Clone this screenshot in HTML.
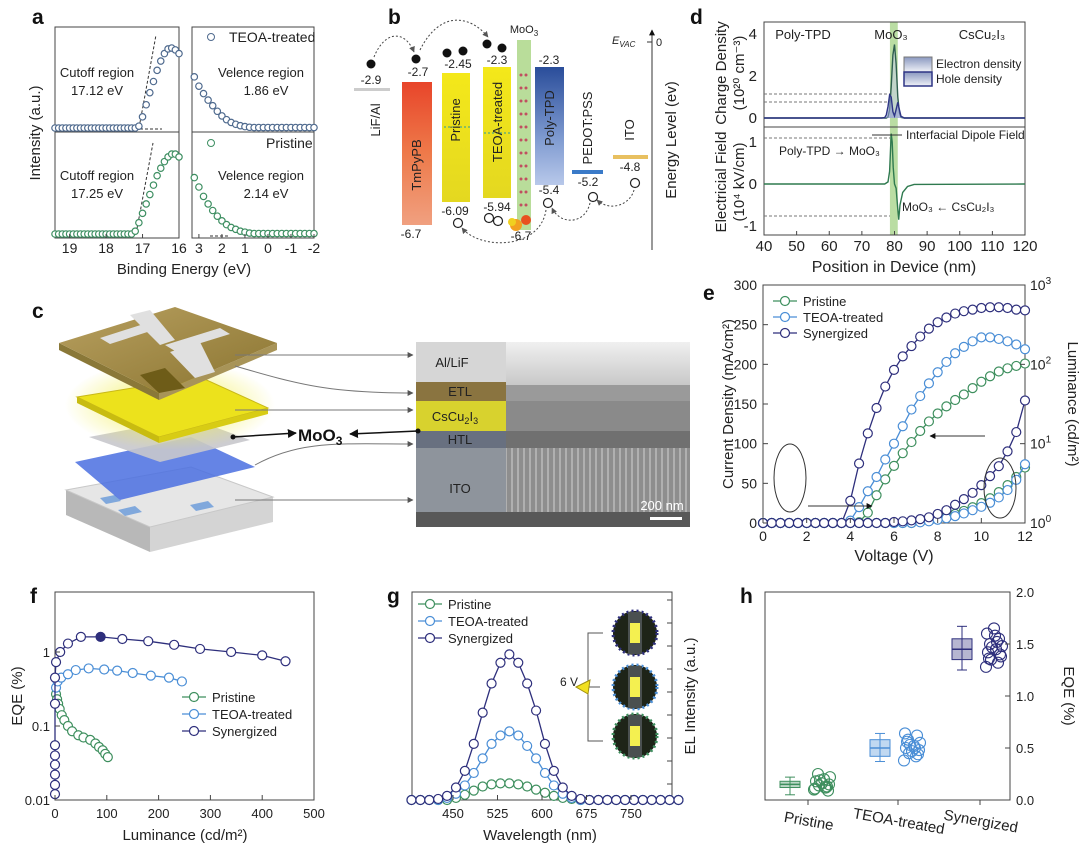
<!DOCTYPE html>
<html><head><meta charset="utf-8"><title>Figure</title>
<style>
html,body{margin:0;padding:0;background:#fff;}
svg{display:block;font-family:"Liberation Sans",Arial,sans-serif;}
</style></head>
<body>
<svg id="fig" xmlns="http://www.w3.org/2000/svg" width="1080" height="848" viewBox="0 0 1080 848">
<defs>
<linearGradient id="gRed" x1="0" y1="0" x2="0" y2="1"><stop offset="0" stop-color="#e8452a"/><stop offset="0.5" stop-color="#ee7a4a"/><stop offset="1" stop-color="#f0a080"/></linearGradient>
<linearGradient id="gYel" x1="0" y1="0" x2="0" y2="1"><stop offset="0" stop-color="#f4e81a"/><stop offset="1" stop-color="#e4d820"/></linearGradient>
<linearGradient id="gBlue" x1="0" y1="0" x2="0" y2="1"><stop offset="0" stop-color="#2a4d9a"/><stop offset="0.6" stop-color="#7e9ad0"/><stop offset="1" stop-color="#b8c8ea"/></linearGradient>
<linearGradient id="gLeg" x1="0" y1="0" x2="0" y2="1"><stop offset="0" stop-color="#8a98c0"/><stop offset="1" stop-color="#f0f2f8"/></linearGradient>
<linearGradient id="gGold" x1="0" y1="0" x2="1" y2="1"><stop offset="0" stop-color="#b8a060"/><stop offset="1" stop-color="#8a7430"/></linearGradient>
<radialGradient id="gGlow"><stop offset="0" stop-color="#f2ee50"/><stop offset="1" stop-color="#f2ee50" stop-opacity="0"/></radialGradient>
<linearGradient id="gSemTop" x1="0" y1="0" x2="0" y2="1"><stop offset="0" stop-color="#f0f0f0"/><stop offset="1" stop-color="#c8c8c8"/></linearGradient>
<pattern id="pCol" width="6" height="64" patternUnits="userSpaceOnUse"><rect width="6" height="64" fill="#8e8e8e"/><rect x="1" width="2" height="64" fill="#b0b0b0"/></pattern>
<marker id="arr" viewBox="0 0 10 10" refX="9" refY="5" markerWidth="6" markerHeight="6" orient="auto"><path d="M0,0 L10,5 L0,10 z" fill="#555"/></marker>
<marker id="arrB" viewBox="0 0 10 10" refX="9" refY="5" markerWidth="6" markerHeight="6" orient="auto"><path d="M0,0 L10,5 L0,10 z" fill="#111"/></marker>
</defs>
<rect width="1080" height="848" fill="#fff"/>

<g font-weight="bold" font-size="21" fill="#111">
<text x="32" y="24">a</text>
<text x="388" y="24">b</text>
<text x="32" y="318">c</text>
<text x="690" y="24">d</text>
<text x="703" y="300">e</text>
<text x="30" y="603">f</text>
<text x="387" y="603">g</text>
<text x="740" y="603">h</text>
</g>

<g id="panelB" font-size="13" fill="#222">
<rect x="354" y="88" width="36" height="3" fill="#ccc"/>
<rect x="402" y="82" width="30" height="143" fill="url(#gRed)"/>
<rect x="442" y="73" width="28" height="129" fill="url(#gYel)"/>
<rect x="483" y="67" width="28" height="131" fill="url(#gYel)"/>
<rect x="517" y="40" width="14" height="190" fill="#b9dd9a"/>
<rect x="535" y="67" width="29" height="118" fill="url(#gBlue)"/>
<rect x="572" y="170" width="31" height="4" fill="#3a7ac8"/>
<rect x="613" y="155" width="35" height="4" fill="#e8c060"/>
<line x1="444" y1="127" x2="470" y2="127" stroke="#2a9aa0" stroke-dasharray="2,2"/>
<line x1="484" y1="133" x2="511" y2="133" stroke="#2a9aa0" stroke-dasharray="2,2"/>
<g fill="#c05060">
<circle cx="521" cy="75" r="1.5"/><circle cx="526" cy="75" r="1.5"/><circle cx="521" cy="88" r="1.5"/><circle cx="526" cy="88" r="1.5"/><circle cx="521" cy="101" r="1.5"/><circle cx="526" cy="101" r="1.5"/><circle cx="521" cy="114" r="1.5"/><circle cx="526" cy="114" r="1.5"/><circle cx="521" cy="127" r="1.5"/><circle cx="526" cy="127" r="1.5"/><circle cx="521" cy="140" r="1.5"/><circle cx="526" cy="140" r="1.5"/><circle cx="521" cy="153" r="1.5"/><circle cx="526" cy="153" r="1.5"/><circle cx="521" cy="166" r="1.5"/><circle cx="526" cy="166" r="1.5"/><circle cx="521" cy="179" r="1.5"/><circle cx="526" cy="179" r="1.5"/><circle cx="521" cy="192" r="1.5"/><circle cx="526" cy="192" r="1.5"/><circle cx="521" cy="205" r="1.5"/><circle cx="526" cy="205" r="1.5"/>
</g>
<g><circle cx="516" cy="225" r="6" fill="#f2a020"/><circle cx="526" cy="220" r="5" fill="#e85020"/><circle cx="512" cy="222" r="4" fill="#f0d020"/></g>
<line x1="652" y1="250" x2="652" y2="30" stroke="#333" marker-end="url(#arrB)"/>
<line x1="647" y1="42" x2="652" y2="42" stroke="#333"/>
<text x="656" y="46" font-size="11">0</text>
<text x="612" y="44" font-size="11" font-style="italic">E<tspan font-size="8" dy="3">VAC</tspan></text>
<text transform="translate(676,140) rotate(-90)" text-anchor="middle" font-size="15">Energy Level (ev)</text>
<text x="524" y="33" font-size="11" text-anchor="middle">MoO<tspan font-size="8" dy="3">3</tspan></text>
<g text-anchor="middle" font-size="12">
<text x="371" y="84">-2.9</text><text x="418" y="76">-2.7</text><text x="458" y="68">-2.45</text><text x="497" y="64">-2.3</text><text x="549" y="64">-2.3</text>
<text x="411" y="238">-6.7</text><text x="455" y="215">-6.09</text><text x="497" y="211">-5.94</text><text x="521" y="240">-6.7</text><text x="549" y="194">-5.4</text><text x="588" y="186">-5.2</text><text x="630" y="171">-4.8</text>
</g>
<g font-size="13" text-anchor="middle">
<text transform="translate(380,120) rotate(-90)">LiF/Al</text>
<text transform="translate(421,165) rotate(-90)">TmPyPB</text>
<text transform="translate(460,120) rotate(-90)">Pristine</text>
<text transform="translate(502,122) rotate(-90)">TEOA-treated</text>
<text transform="translate(554,118) rotate(-90)">Poly-TPD</text>
<text transform="translate(592,128) rotate(-90)">PEDOT:PSS</text>
<text transform="translate(634,130) rotate(-90)">ITO</text>
</g>
<g fill="#111"><circle cx="371" cy="64" r="4.5"/><circle cx="416" cy="59" r="4.5"/><circle cx="447" cy="53" r="4.5"/><circle cx="463" cy="51" r="4.5"/><circle cx="487" cy="44" r="4.5"/><circle cx="502" cy="48" r="4.5"/></g>
<g fill="#fff" stroke="#222" stroke-width="1.2"><circle cx="458" cy="223" r="4.5"/><circle cx="489" cy="218" r="4.5"/><circle cx="498" cy="221" r="4.5"/><circle cx="548" cy="203" r="4.5"/><circle cx="593" cy="197" r="4.5"/><circle cx="635" cy="183" r="4.5"/></g>
<g fill="none" stroke="#444" stroke-dasharray="2,2">
<path d="M374,57 C385,30 405,30 414,52" marker-end="url(#arr)"/>
<path d="M420,50 C440,10 470,15 488,37" marker-end="url(#arr)"/>
<path d="M546,210 C540,250 480,250 462,228" marker-end="url(#arr)"/>
<path d="M590,203 C585,225 560,225 552,208" marker-end="url(#arr)"/>
<path d="M634,190 C630,205 610,212 597,200" marker-end="url(#arr)"/>
</g>
</g>

<g id="panelC">
<g>
<polygon points="66,490 150,527 150,552 66,515" fill="#b8b8b8"/>
<polygon points="150,527 273,497 273,522 150,552" fill="#d4d4d4"/>
<polygon points="66,490 191,467 273,497 150,527" fill="#e6e6e6" stroke="#c8c8c8"/>
<polygon points="100,498 115,495 121,501 106,504" fill="#80a8dc"/><polygon points="118,510 135,506 142,512 125,516" fill="#80a8dc"/><polygon points="190,505 208,501 214,507 196,511" fill="#80a8dc"/>
</g>
<polygon points="75,462 191,437 255,467 120,500" fill="#4a6ee0" opacity="0.85"/>
<polygon points="89,437 190,418 250,440 160,462" fill="#c8c8cc" opacity="0.9"/>
<ellipse cx="170" cy="405" rx="105" ry="45" fill="url(#gGlow)"/>
<polygon points="77,397 200,377 268,408 159,437" fill="#ece21c" stroke="#c8b818"/>
<polygon points="77,397 159,437 159,443 77,403" fill="#c8bc10"/>
<polygon points="159,437 268,408 268,414 159,443" fill="#d8cc14"/>
<g>
<polygon points="59,343 159,393 159,400 59,350" fill="#8a7838"/>
<polygon points="159,393 277,343 277,350 159,400" fill="#a89458"/>
<polygon points="59,343 175,307 277,343 159,393" fill="url(#gGold)"/>
<polygon points="100,338 150,322 160,328 110,344" fill="#e0e0e0"/>
<polygon points="165,345 220,328 230,334 175,351" fill="#e0e0e0"/>
<polygon points="130,315 150,310 175,340 160,345" fill="#e0e0e0"/>
<polygon points="170,352 200,342 215,372 195,378" fill="#e0e0e0"/>
<polygon points="140,375 165,368 185,388 159,393" fill="#6e5c18"/>
</g>
<g>
<rect x="416" y="342" width="90" height="40" fill="#d6d6d6"/>
<rect x="416" y="382" width="90" height="19" fill="#8a7440"/>
<rect x="416" y="401" width="90" height="30" fill="#d8d22e"/>
<rect x="416" y="431" width="90" height="17" fill="#687080"/>
<rect x="416" y="448" width="90" height="64" fill="#8e949c"/>
<rect x="506" y="342" width="184" height="43" fill="url(#gSemTop)"/>
<rect x="506" y="385" width="184" height="16" fill="#9a9a9a"/>
<rect x="506" y="401" width="184" height="30" fill="#8a8a8a"/>
<rect x="506" y="431" width="184" height="17" fill="#707070"/>
<rect x="506" y="448" width="184" height="64" fill="url(#pCol)"/>
<rect x="416" y="512" width="274" height="15" fill="#585858"/>
<rect x="650" y="517" width="32" height="3" fill="#fff"/>
<text x="662" y="510" font-size="13" fill="#fff" text-anchor="middle">200 nm</text>
<g font-size="13" fill="#222" text-anchor="middle">
<text x="452" y="367">Al/LiF</text><text x="460" y="396">ETL</text><text x="455" y="421">CsCu<tspan font-size="9" dy="3">2</tspan><tspan dy="-3">I</tspan><tspan font-size="9" dy="3">3</tspan></text><text x="460" y="444">HTL</text><text x="460" y="493">ITO</text>
</g>
</g>
<g fill="none" stroke="#777">
<line x1="235" y1="355" x2="413" y2="355" marker-end="url(#arr)"/>
<path d="M235,366 C300,385 330,393 413,393" marker-end="url(#arr)"/>
<line x1="235" y1="410" x2="413" y2="410" marker-end="url(#arr)"/>
<path d="M255,465 C300,440 340,444 413,444" marker-end="url(#arr)"/>
<line x1="235" y1="500" x2="413" y2="500" marker-end="url(#arr)"/>
</g>
<g>
<circle cx="233" cy="437" r="2.5" fill="#111"/>
<line x1="233" y1="437" x2="296" y2="433" stroke="#111" stroke-width="1.5" marker-end="url(#arrB)"/>
<line x1="418" y1="431" x2="350" y2="434" stroke="#111" stroke-width="1.5" marker-end="url(#arrB)"/>
<circle cx="418" cy="431" r="2.5" fill="#111"/>
<text x="298" y="441" font-size="17" font-weight="bold" fill="#111">MoO<tspan font-size="12" dy="4">3</tspan></text>
</g>
</g>

<g id="dyn"></g>

<script>
// ---------- data arrays ----------
const aCutEnergy = [19.4,19.3,19.2,19.1,19.0,18.9,18.8,18.7,18.6,18.5,18.4,18.3,18.2,18.1,18.0,17.9,17.8,17.7,17.6,17.5,17.4,17.3,17.2,17.1,17.0,16.9,16.8,16.7,16.6,16.5,16.4,16.3,16.2,16.1,16.0];
const aCutTeoa = [0,0,0,0,0,0,0,0,0,0,0,0,0,0,0,0,0,0,0,0,0,0,0,0.02,0.12,0.25,0.38,0.5,0.62,0.72,0.8,0.85,0.86,0.84,0.8];
const aCutPristine = [0,0,0,0,0,0,0,0,0,0,0,0,0,0,0,0,0,0,0,0,0,0,0.03,0.12,0.22,0.32,0.42,0.52,0.62,0.7,0.77,0.82,0.85,0.85,0.82];
const aValEnergy = [3.2,3.0,2.8,2.6,2.4,2.2,2.0,1.8,1.6,1.4,1.2,1.0,0.8,0.6,0.4,0.2,0,-0.2,-0.4,-0.6,-0.8,-1.0,-1.2,-1.4,-1.6,-1.8,-2.0];
const aValTeoa = [0.55,0.45,0.37,0.3,0.24,0.18,0.13,0.09,0.06,0.04,0.025,0.015,0.008,0.005,0.005,0.005,0.005,0.005,0.005,0.005,0.005,0.005,0.005,0.005,0.005,0.005,0.005];
const aValPristine = [0.6,0.5,0.4,0.32,0.25,0.19,0.14,0.1,0.07,0.05,0.03,0.02,0.01,0.005,0.005,0.005,0.005,0.005,0.005,0.005,0.005,0.005,0.005,0.005,0.005,0.005,0.005];
const aCutTicks = [19,18,17,16];
const aValTicks = [3,2,1,0,-1,-2];
const dPos = [40,76,77,77.5,78,78.5,79,79.5,80,80.5,81,81.5,82,83,120];
const dElectron = [0,0,0,0,0.05,0.4,1.5,3.0,3.5,2.6,1.0,0.25,0.03,0,0];
const dHole = [0,0,0.02,0.15,0.55,1.1,1.0,0.3,0.1,0.4,0.75,0.4,0.08,0,0];
const dFieldPos = [40,77,78,78.5,79,79.3,79.6,80,80.5,81,81.3,81.7,82.5,84,86,120];
const dField = [0,0,0.05,0.3,1.2,1.0,0.4,0,-0.1,-0.6,-0.85,-0.5,-0.2,-0.06,-0.01,0];
const dXTicks = [40,50,60,70,80,90,100,110,120];
const dTopTicks = [0,2,4];
const dBotTicks = [-1,0,1];
const eVoltage = [0,0.4,0.8,1.2,1.6,2,2.4,2.8,3.2,3.6,4,4.4,4.8,5.2,5.6,6,6.4,6.8,7.2,7.6,8,8.4,8.8,9.2,9.6,10,10.4,10.8,11.2,11.6,12];
const eJSyn = [0,0,0,0,0,0,0,0,0,0,28,75,113,145,172,193,210,223,235,245,253,259,264,267,269,271,272,272,271,269,268];
const eJTeoa = [0,0,0,0,0,0,0,0,0,0,3,20,40,58,80,100,122,143,160,176,190,203,214,222,229,234,234,232,229,225,219];
const eJPristine = [0,0,0,0,0,0,0,0,0,0,0,1,13,35,55,72,88,102,116,128,138,147,155,162,170,178,185,191,195,198,201];
const eLSyn = [1,1,1,1,1,1,1,1,1,1,1,1,1,1,1,1.03,1.05,1.08,1.12,1.18,1.3,1.45,1.7,2.0,2.4,3.0,3.9,5.2,8,14,35];
const eLTeoa = [1,1,1,1,1,1,1,1,1,1,1,1,1,1,1,1,1,1,1.02,1.05,1.1,1.15,1.22,1.32,1.45,1.6,1.8,2.1,2.6,3.5,5.5];
const eLPristine = [1,1,1,1,1,1,1,1,1,1,1,1,1,1,1,1,1,1,1.03,1.07,1.13,1.2,1.3,1.42,1.58,1.78,2.05,2.45,3.0,3.8,5.0];
const eXTicks = [0,2,4,6,8,10,12];
const eJTicks = [0,50,100,150,200,250,300];
const eLTicks = [0,1,2,3];
const fLumSyn = [0,0,0,0,0,0,0,0,2,10,25,50,88,130,180,230,280,340,400,445];
const fEqeSyn = [0.012,0.016,0.022,0.03,0.04,0.055,0.2,0.45,0.73,1.0,1.3,1.6,1.6,1.5,1.4,1.25,1.1,1.0,0.9,0.75];
const fLumTeoa = [2,5,12,25,40,65,95,120,150,185,220,245];
const fEqeTeoa = [0.33,0.4,0.45,0.5,0.57,0.6,0.58,0.56,0.52,0.48,0.45,0.4];
const fLumPristine = [2,4,6,9,13,18,25,33,45,55,68,78,85,92,97,102];
const fEqePristine = [0.27,0.23,0.2,0.17,0.14,0.12,0.1,0.085,0.075,0.07,0.065,0.058,0.052,0.047,0.042,0.038];
const fXTicks = [0,100,200,300,400,500];
const fYTicks = [0.01,0.1,1];
const fYTickLabels = ['0.01','0.1','1'];
const gWave = [380,395,410,425,440,455,470,485,500,515,530,545,560,575,590,605,620,635,650,665,680,695,710,725,740,755,770,785,800,815,830];
const gSyn = [0,0,0,0.005,0.02,0.06,0.14,0.27,0.42,0.56,0.66,0.70,0.66,0.56,0.43,0.27,0.14,0.06,0.02,0.005,0,0,0,0,0,0,0,0,0,0,0];
const gTeoa = [0,0,0,0,0.01,0.03,0.07,0.13,0.2,0.27,0.31,0.33,0.31,0.26,0.2,0.13,0.07,0.03,0.01,0,0,0,0,0,0,0,0,0,0,0,0];
const gPristine = [0,0,0,0,0,0.01,0.025,0.045,0.065,0.075,0.08,0.08,0.075,0.065,0.05,0.035,0.02,0.01,0.005,0,0,0,0,0,0,0,0,0,0,0,0];
const gXTicks = [450,525,600,675,750];
const hCategories = ['Pristine','TEOA-treated','Synergized'];
const hBoxMin = [0.05,0.37,1.25];
const hBoxQ1 = [0.12,0.42,1.35];
const hBoxMed = [0.15,0.5,1.45];
const hBoxQ3 = [0.18,0.58,1.55];
const hBoxMax = [0.22,0.64,1.67];
const hPtsPristine = [0.1,0.12,0.14,0.15,0.18,0.2,0.22,0.25,0.13,0.11,0.16,0.09,0.19,0.12];
const hPtsTeoa = [0.38,0.42,0.45,0.48,0.5,0.52,0.55,0.58,0.62,0.64,0.47,0.44,0.53,0.5,0.56];
const hPtsSyn = [1.28,1.32,1.35,1.38,1.42,1.45,1.48,1.5,1.55,1.6,1.65,1.4,1.47,1.52,1.36,1.58];
const hYTicks = [0,0.5,1.0,1.5,2.0];

// ---------- helpers ----------
const NS = 'http://www.w3.org/2000/svg';
const root = document.getElementById('dyn');
function mk(tag, attrs, parent) {
  const el = document.createElementNS(NS, tag);
  for (const k in attrs) el.setAttribute(k, attrs[k]);
  (parent || root).appendChild(el);
  return el;
}
function named(el, name, inter) {
  
  
  return el;
}
function txt(x, y, s, attrs, name) {
  const t = mk('text', Object.assign({x: x, y: y, 'font-size': 13, fill: '#222'}, attrs || {}));
  t.textContent = s;
  named(t, name || 'label');
  return t;
}
function lin(d0, d1, r0, r1) { return v => r0 + (v - d0) * (r1 - r0) / (d1 - d0); }
function frame(x, y, w, h, name) {
  const r = mk('rect', {x: x, y: y, width: w, height: h, fill: 'none', stroke: '#444', 'stroke-width': 1});
  named(r, name);
}
function series(xs, ys, sx, sy, color, name, r, opts) {
  opts = opts || {};
  const g = mk('g', {});
  named(g, name);
  let d = '';
  xs.forEach((x, i) => { d += (i ? 'L' : 'M') + sx(x).toFixed(1) + ',' + sy(ys[i]).toFixed(1); });
  if (!opts.noLine) {
    const p = mk('path', {d: d, fill: 'none', stroke: color, 'stroke-width': 1.3}, g);
    named(p, name + '-line');
  }
  xs.forEach((x, i) => {
    const c = mk('circle', {cx: sx(x), cy: sy(ys[i]), r: r || 4.5, fill: (opts.filled === i) ? color : (opts.fill || '#fff'), stroke: color, 'stroke-width': 1.2}, g);
    named(c, name + '-marker');
  });
  return g;
}
function legendRow(x, y, color, label, name) {
  const g = mk('g', {});
  named(g, name);
  const l = mk('line', {x1: x, y1: y, x2: x + 24, y2: y, stroke: color, 'stroke-width': 1.3}, g);
  named(l, name + '-line');
  const c = mk('circle', {cx: x + 12, cy: y, r: 4.5, fill: '#fff', stroke: color, 'stroke-width': 1.2}, g);
  named(c, name + '-marker');
  const t = mk('text', {x: x + 30, y: y + 5, 'font-size': 13, fill: '#222'}, g);
  t.textContent = label;
  named(t, name + '-text');
}
const NAVY = '#2e2f7c', BLUE = '#4a8ed6', GREEN = '#3e8f5e';

// ---------- panel a ----------
(function () {
  const xa = lin(19.4, 16, 55, 179), xv = lin(3.3, -2, 192, 314);
  const yT = lin(0, 1, 128, 35), yB = lin(0, 1, 234, 140);
  frame(55, 27, 124, 105, 'cutoff-teoa-frame'); frame(55, 132, 124, 106, 'cutoff-pristine-frame');
  frame(192, 27, 122, 105, 'valence-teoa-frame'); frame(192, 132, 122, 106, 'valence-pristine-frame');
  const dl1 = mk('line', {x1: 139, y1: 128, x2: 156, y2: 35, stroke: '#333', 'stroke-dasharray': '3,2'}); named(dl1, 'tangent-line');
  const dl2 = mk('line', {x1: 120, y1: 129, x2: 162, y2: 129, stroke: '#333', 'stroke-dasharray': '3,2'}); named(dl2, 'baseline-dash');
  const dl3 = mk('line', {x1: 136, y1: 234, x2: 153, y2: 143, stroke: '#333', 'stroke-dasharray': '3,2'}); named(dl3, 'tangent-line');
  const dl4 = mk('line', {x1: 210, y1: 236, x2: 230, y2: 236, stroke: '#333', 'stroke-dasharray': '3,2'}); named(dl4, 'baseline-dash');
  series(aCutEnergy, aCutTeoa, xa, yT, '#4f6a8e', 'cutoff-teoa-series', 3.2, {noLine: true});
  series(aCutEnergy, aCutPristine, xa, yB, '#3e8f62', 'cutoff-pristine-series', 3.2, {noLine: true});
  series(aValEnergy, aValTeoa, xv, yT, '#4f6a8e', 'valence-teoa-series', 3.2, {noLine: true});
  series(aValEnergy, aValPristine, xv, yB, '#3e8f62', 'valence-pristine-series', 3.2, {noLine: true});
  aCutTicks.forEach(v => { txt(xa(v), 253, String(v), {'text-anchor': 'middle', 'font-size': 14}, 'x-tick-label'); const t = mk('line', {x1: xa(v), y1: 238, x2: xa(v), y2: 234, stroke: '#444'}); named(t, 'x-tick'); });
  aValTicks.forEach(v => { txt(xv(v), 253, String(v), {'text-anchor': 'middle', 'font-size': 14}, 'x-tick-label'); const t = mk('line', {x1: xv(v), y1: 238, x2: xv(v), y2: 234, stroke: '#444'}); named(t, 'x-tick'); });
  txt(184, 274, 'Binding Energy (eV)', {'text-anchor': 'middle', 'font-size': 15}, 'x-axis-title');
  txt(0, 0, 'Intensity (a.u.)', {'text-anchor': 'middle', 'font-size': 15, transform: 'translate(40,133) rotate(-90)'}, 'y-axis-title');
  txt(97, 77, 'Cutoff region', {'text-anchor': 'middle'}, 'annotation');
  txt(97, 95, '17.12 eV', {'text-anchor': 'middle'}, 'annotation');
  txt(97, 180, 'Cutoff region', {'text-anchor': 'middle'}, 'annotation');
  txt(97, 198, '17.25 eV', {'text-anchor': 'middle'}, 'annotation');
  txt(261, 77, 'Velence region', {'text-anchor': 'middle'}, 'annotation');
  txt(266, 95, '1.86 eV', {'text-anchor': 'middle'}, 'annotation');
  txt(261, 180, 'Velence region', {'text-anchor': 'middle'}, 'annotation');
  txt(266, 198, '2.14 eV', {'text-anchor': 'middle'}, 'annotation');
  const lc1 = mk('circle', {cx: 211, cy: 37, r: 3.5, fill: 'none', stroke: '#4f6a8e'}); named(lc1, 'legend-marker-teoa');
  txt(229, 42, 'TEOA-treated', {'font-size': 14}, 'legend-teoa');
  const lc2 = mk('circle', {cx: 211, cy: 143, r: 3.5, fill: 'none', stroke: '#3e8f62'}); named(lc2, 'legend-marker-pristine');
  txt(266, 148, 'Pristine', {'font-size': 14}, 'legend-pristine');
})();

// ---------- panel d ----------
(function () {
  const xd = lin(40, 120, 764, 1025), yTop = lin(0, 4, 118, 34), yBot = lin(0, 1, 184, 142);
  const band = mk('rect', {x: xd(78.6), y: 22, width: xd(81) - xd(78.6), height: 213, fill: '#a9d48c', opacity: 0.8}); named(band, 'moo3-band');
  frame(764, 22, 261, 105, 'charge-density-frame');
  frame(764, 127, 261, 108, 'electric-field-frame');
  [94, 102].forEach(y => { const l = mk('line', {x1: 764, y1: y, x2: 890, y2: y, stroke: '#777', 'stroke-dasharray': '3,2'}); named(l, 'reference-dash'); });
  [138, 216].forEach(y => { const l = mk('line', {x1: 764, y1: y, x2: 890, y2: y, stroke: '#777', 'stroke-dasharray': '3,2'}); named(l, 'reference-dash'); });
  function area(xs, ys, sy, col, fill, name) {
    let d = '';
    xs.forEach((x, i) => { d += (i ? 'L' : 'M') + xd(x).toFixed(1) + ',' + sy(ys[i]).toFixed(1); });
    const a = mk('path', {d: d + 'Z', fill: fill, opacity: 0.6}); named(a, name + '-fill');
    const p = mk('path', {d: d, fill: 'none', stroke: col, 'stroke-width': 1.4}); named(p, name);
  }
  area(dPos, dElectron, yTop, '#2f5f4f', '#c8d0e4', 'electron-density-curve');
  area(dPos, dHole, yTop, '#2e3585', '#8e9ad0', 'hole-density-curve');
  area(dFieldPos, dField, yBot, '#2f7a4f', 'none', 'electric-field-curve');
  dXTicks.forEach(v => { txt(xd(v), 251, String(v), {'text-anchor': 'middle', 'font-size': 15}, 'x-tick-label'); const t = mk('line', {x1: xd(v), y1: 235, x2: xd(v), y2: 231, stroke: '#444'}); named(t, 'x-tick'); });
  dTopTicks.forEach(v => { txt(757, yTop(v) + 5, String(v), {'text-anchor': 'end', 'font-size': 15}, 'y-tick-label'); });
  dBotTicks.forEach(v => { txt(757, yBot(v) + 5, String(v), {'text-anchor': 'end', 'font-size': 15}, 'y-tick-label'); });
  txt(894, 272, 'Position in Device (nm)', {'text-anchor': 'middle', 'font-size': 16}, 'x-axis-title');
  txt(0, 0, 'Charge Density', {'text-anchor': 'middle', 'font-size': 15, transform: 'translate(726,73) rotate(-90)'}, 'y-axis-title-top');
  txt(0, 0, '(10²⁰ cm⁻³)', {'text-anchor': 'middle', 'font-size': 15, transform: 'translate(744,73) rotate(-90)'}, 'y-axis-unit-top');
  txt(0, 0, 'Electricial Field', {'text-anchor': 'middle', 'font-size': 15, transform: 'translate(726,182) rotate(-90)'}, 'y-axis-title-bottom');
  txt(0, 0, '(10⁴ kV/cm)', {'text-anchor': 'middle', 'font-size': 15, transform: 'translate(744,182) rotate(-90)'}, 'y-axis-unit-bottom');
  txt(803, 39, 'Poly-TPD', {'text-anchor': 'middle'}, 'region-label');
  txt(891, 39, 'MoO₃', {'text-anchor': 'middle'}, 'region-label');
  txt(982, 39, 'CsCu₂I₃', {'text-anchor': 'middle'}, 'region-label');
  const lg1 = mk('rect', {x: 904, y: 57, width: 28, height: 15, fill: 'url(#gLeg)', stroke: '#777'}); named(lg1, 'legend-electron-swatch');
  const lg2 = mk('rect', {x: 904, y: 72, width: 28, height: 14, fill: 'url(#gLeg)', stroke: '#2e3585', 'stroke-width': 1.5}); named(lg2, 'legend-hole-swatch');
  txt(936, 68, 'Electron density', {'font-size': 12}, 'legend-electron');
  txt(936, 83, 'Hole density', {'font-size': 12}, 'legend-hole');
  const il = mk('line', {x1: 872, y1: 135, x2: 902, y2: 135, stroke: '#333'}); named(il, 'dipole-pointer');
  txt(906, 139, 'Interfacial Dipole Field', {'font-size': 12}, 'dipole-label');
  txt(779, 155, 'Poly-TPD → MoO₃', {'font-size': 12}, 'field-direction-label');
  txt(902, 211, 'MoO₃ ← CsCu₂I₃', {'font-size': 12}, 'field-direction-label');
})();

// ---------- panel e ----------
(function () {
  const xe = lin(0, 12, 763, 1025), yJ = lin(0, 300, 523, 285), yLog = lin(0, 3, 523, 285);
  const yL = v => yLog(Math.log10(v));
  frame(763, 285, 262, 238, 'jvl-frame');
  series(eVoltage, eJPristine, xe, yJ, GREEN, 'current-pristine');
  series(eVoltage, eJTeoa, xe, yJ, BLUE, 'current-teoa');
  series(eVoltage, eJSyn, xe, yJ, NAVY, 'current-synergized');
  series(eVoltage, eLPristine, xe, yL, GREEN, 'luminance-pristine');
  series(eVoltage, eLTeoa, xe, yL, BLUE, 'luminance-teoa');
  series(eVoltage, eLSyn, xe, yL, NAVY, 'luminance-synergized');
  eXTicks.forEach(v => { txt(xe(v), 541, String(v), {'text-anchor': 'middle', 'font-size': 14}, 'x-tick-label'); const t = mk('line', {x1: xe(v), y1: 523, x2: xe(v), y2: 518, stroke: '#444'}); named(t, 'x-tick'); });
  eJTicks.forEach(v => { txt(757, yJ(v) + 5, String(v), {'text-anchor': 'end', 'font-size': 14}, 'y-tick-label'); const t = mk('line', {x1: 763, y1: yJ(v), x2: 768, y2: yJ(v), stroke: '#444'}); named(t, 'y-tick'); });
  eLTicks.forEach(v => { const t = txt(1030, yLog(v) + 5, '10', {'font-size': 14}, 'right-tick-label'); const s = mk('tspan', {dy: -6, 'font-size': 10}, t); s.textContent = String(v); const k = mk('line', {x1: 1020, y1: yLog(v), x2: 1025, y2: yLog(v), stroke: '#444'}); named(k, 'right-tick'); });
  txt(894, 561, 'Voltage (V)', {'text-anchor': 'middle', 'font-size': 16}, 'x-axis-title');
  txt(0, 0, 'Current Density (mA/cm²)', {'text-anchor': 'middle', 'font-size': 15, transform: 'translate(733,404) rotate(-90)'}, 'y-axis-title');
  txt(0, 0, 'Luminance (cd/m²)', {'text-anchor': 'middle', 'font-size': 15, transform: 'translate(1068,404) rotate(90)'}, 'right-axis-title');
  legendRow(773, 301, GREEN, 'Pristine', 'legend-pristine');
  legendRow(773, 317, BLUE, 'TEOA-treated', 'legend-teoa');
  legendRow(773, 333, NAVY, 'Synergized', 'legend-synergized');
  const e1 = mk('ellipse', {cx: 790, cy: 478, rx: 16, ry: 34, fill: 'none', stroke: '#333'}); named(e1, 'current-group-ellipse');
  const e2 = mk('ellipse', {cx: 1000, cy: 488, rx: 16, ry: 30, fill: 'none', stroke: '#333'}); named(e2, 'luminance-group-ellipse');
  const a1 = mk('line', {x1: 985, y1: 436, x2: 930, y2: 436, stroke: '#333', 'marker-end': 'url(#arrB)'}); named(a1, 'axis-pointer-left');
  const a2 = mk('line', {x1: 808, y1: 506, x2: 872, y2: 506, stroke: '#333', 'marker-end': 'url(#arrB)'}); named(a2, 'axis-pointer-right');
})();

// ---------- panel f ----------
(function () {
  const xf = lin(0, 500, 55, 314), yLog = lin(-2, 0, 800, 652);
  const yf = v => yLog(Math.log10(v));
  frame(55, 592, 259, 208, 'eqe-luminance-frame');
  series(fLumPristine, fEqePristine, xf, yf, GREEN, 'eqe-pristine');
  series(fLumTeoa, fEqeTeoa, xf, yf, BLUE, 'eqe-teoa');
  series(fLumSyn, fEqeSyn, xf, yf, NAVY, 'eqe-synergized', 4.5, {filled: 12});
  fXTicks.forEach(v => { txt(xf(v), 818, String(v), {'text-anchor': 'middle', 'font-size': 13}, 'x-tick-label'); const t = mk('line', {x1: xf(v), y1: 800, x2: xf(v), y2: 795, stroke: '#444'}); named(t, 'x-tick'); });
  fYTicks.forEach((v, i) => { txt(50, yf(v) + 5, fYTickLabels[i], {'text-anchor': 'end', 'font-size': 13}, 'y-tick-label'); const t = mk('line', {x1: 55, y1: yf(v), x2: 60, y2: yf(v), stroke: '#444'}); named(t, 'y-tick'); });
  txt(185, 840, 'Luminance (cd/m²)', {'text-anchor': 'middle', 'font-size': 15}, 'x-axis-title');
  txt(0, 0, 'EQE (%)', {'text-anchor': 'middle', 'font-size': 15, transform: 'translate(22,696) rotate(-90)'}, 'y-axis-title');
  legendRow(182, 697, GREEN, 'Pristine', 'legend-pristine');
  legendRow(182, 714, BLUE, 'TEOA-treated', 'legend-teoa');
  legendRow(182, 731, NAVY, 'Synergized', 'legend-synergized');
})();

// ---------- panel g ----------
(function () {
  const xg = lin(450, 750, 453, 631), yg = lin(0, 1, 800, 592);
  frame(412, 592, 260, 208, 'el-spectra-frame');
  series(gWave, gPristine, xg, yg, GREEN, 'el-pristine');
  series(gWave, gTeoa, xg, yg, BLUE, 'el-teoa');
  series(gWave, gSyn, xg, yg, NAVY, 'el-synergized');
  gXTicks.forEach(v => { txt(xg(v), 818, String(v), {'text-anchor': 'middle', 'font-size': 13}, 'x-tick-label'); const t = mk('line', {x1: xg(v), y1: 800, x2: xg(v), y2: 795, stroke: '#444'}); named(t, 'x-tick'); });
  [0, 1, 2, 3, 4, 5, 6, 7, 8].forEach(i => { const t = mk('line', {x1: 667, y1: 600 + i * 23, x2: 672, y2: 600 + i * 23, stroke: '#444'}); named(t, 'y-tick'); });
  txt(540, 840, 'Wavelength (nm)', {'text-anchor': 'middle', 'font-size': 15}, 'x-axis-title');
  txt(0, 0, 'EL Intensity (a.u.)', {'text-anchor': 'middle', 'font-size': 15, transform: 'translate(695,696) rotate(-90)'}, 'y-axis-title');
  legendRow(418, 604, GREEN, 'Pristine', 'legend-pristine');
  legendRow(418, 621, BLUE, 'TEOA-treated', 'legend-teoa');
  legendRow(418, 638, NAVY, 'Synergized', 'legend-synergized');
  const br = mk('path', {d: 'M603,633 L588,633 L588,741 L603,741 M588,687 L600,687', fill: 'none', stroke: '#555'}); named(br, 'inset-bracket');
  const tri = mk('polygon', {points: '576,687 590,680 588,694', fill: '#f2e020', stroke: '#a09010'}); named(tri, 'voltage-indicator');
  txt(560, 686, '6 V', {'font-size': 12}, 'voltage-label');
  [[633, NAVY], [687, BLUE], [736, GREEN]].forEach(p => {
    const g = mk('g', {}); named(g, 'device-photo');
    const c = mk('circle', {cx: 635, cy: p[0], r: 22, fill: '#1e2418', stroke: p[1], 'stroke-width': 3, 'stroke-dasharray': '2,3'}, g); named(c, 'photo-disc');
    const s = mk('rect', {x: 628, y: p[0] - 21, width: 14, height: 42, fill: '#4a5050'}, g); named(s, 'photo-strip');
    const y = mk('rect', {x: 630, y: p[0] - 10, width: 10, height: 20, fill: '#f4f050'}, g); named(y, 'photo-emission');
  });
})();

// ---------- panel h ----------
(function () {
  const yh = lin(0, 2, 800, 592);
  const boxX = [790, 880, 962], ptX = [822, 912, 994];
  const cols = [GREEN, BLUE, NAVY];
  const pts = [hPtsPristine, hPtsTeoa, hPtsSyn];
  const jit = [-8, 4, -3, 7, -6, 2, 8, -4, 5, -7, 0, 6, -2, 3, -5, 1];
  frame(765, 592, 245, 208, 'eqe-box-frame');
  hCategories.forEach((c, i) => {
    const g = mk('g', {}); named(g, 'box-' + i);
    const w = mk('line', {x1: boxX[i], y1: yh(hBoxMin[i]), x2: boxX[i], y2: yh(hBoxMax[i]), stroke: cols[i]}, g); named(w, 'whisker');
    const t1 = mk('line', {x1: boxX[i] - 5, y1: yh(hBoxMin[i]), x2: boxX[i] + 5, y2: yh(hBoxMin[i]), stroke: cols[i]}, g); named(t1, 'whisker-cap');
    const t2 = mk('line', {x1: boxX[i] - 5, y1: yh(hBoxMax[i]), x2: boxX[i] + 5, y2: yh(hBoxMax[i]), stroke: cols[i]}, g); named(t2, 'whisker-cap');
    const b = mk('rect', {x: boxX[i] - 10, y: yh(hBoxQ3[i]), width: 20, height: yh(hBoxQ1[i]) - yh(hBoxQ3[i]), fill: cols[i], 'fill-opacity': 0.35, stroke: cols[i]}, g); named(b, 'box');
    const m = mk('line', {x1: boxX[i] - 10, y1: yh(hBoxMed[i]), x2: boxX[i] + 10, y2: yh(hBoxMed[i]), stroke: cols[i], 'stroke-width': 1.5}, g); named(m, 'median');
    pts[i].forEach((v, j) => { const c2 = mk('circle', {cx: ptX[i] + jit[j % jit.length], cy: yh(v), r: 5.5, fill: 'none', stroke: cols[i], 'stroke-width': 1.1}, g); named(c2, 'eqe-point'); });
    txt(0, 0, c, {'text-anchor': 'middle', 'font-size': 15, transform: 'translate(' + (boxX[i] + 18) + ',' + (826) + ') rotate(10)'}, 'category-label');
    const k = mk('line', {x1: boxX[i] + 18, y1: 800, x2: boxX[i] + 18, y2: 805, stroke: '#444'}); named(k, 'x-tick');
  });
  hYTicks.forEach(v => { txt(1016, yh(v) + 5, v.toFixed(1), {'font-size': 13}, 'y-tick-label'); const t = mk('line', {x1: 1005, y1: yh(v), x2: 1010, y2: yh(v), stroke: '#444'}); named(t, 'y-tick'); });
  txt(0, 0, 'EQE (%)', {'text-anchor': 'middle', 'font-size': 15, transform: 'translate(1064,696) rotate(90)'}, 'y-axis-title');
})();
</script>
</svg>
</body></html>
